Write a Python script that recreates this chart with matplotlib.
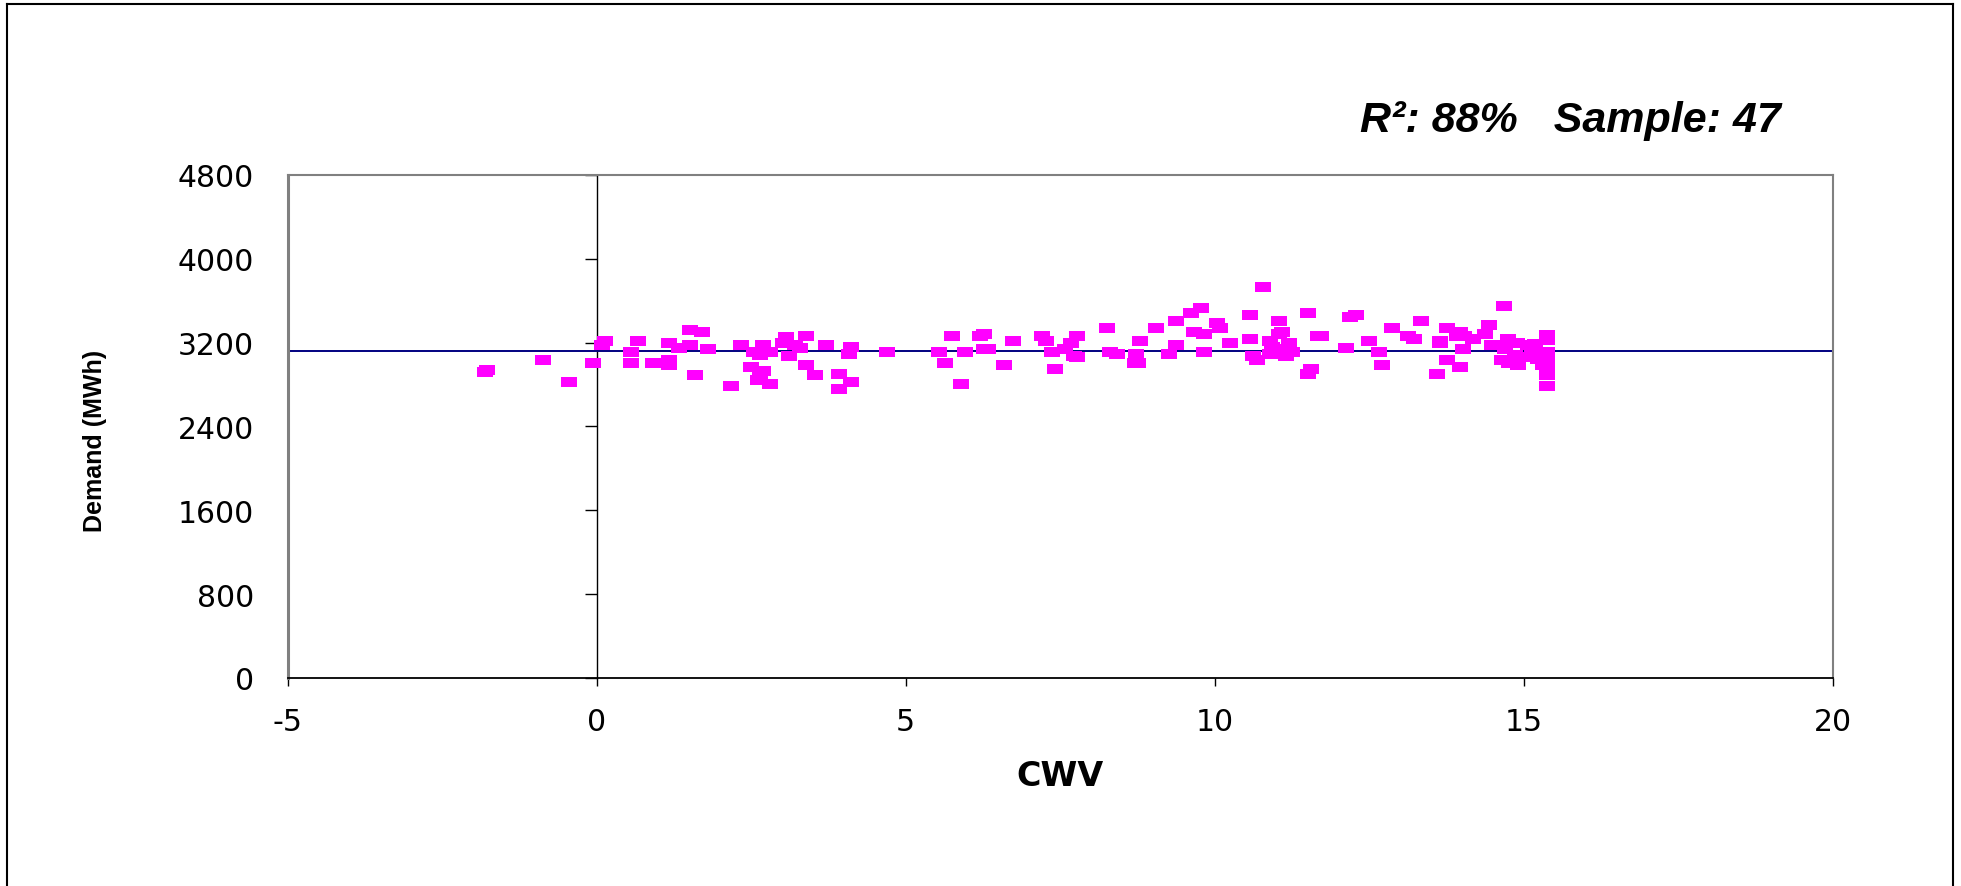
import matplotlib
matplotlib.use("Agg")
import matplotlib.pyplot as plt
from matplotlib.lines import Line2D

# ---- data ----
cwv = [-1.77, -1.80, -0.86, -0.44, -0.06, 0.09, 0.14, 0.56, 0.56, 0.665, 0.92, 1.18, 1.18, 1.18,
       1.33, 1.51, 1.51, 1.60, 1.71,
       1.81, 2.34, 2.18, 2.50, 2.55, 2.65, 2.70, 2.81, 2.70, 2.61, 2.64, 2.81, 3.07, 3.02, 3.12,
       3.22, 3.30, 3.39, 3.39, 3.54, 3.71, 3.92, 3.92, 4.12, 4.08, 4.12, 4.70, 5.54, 5.64, 5.75,
       5.90, 5.96, 6.21, 6.27, 6.27, 6.34, 6.59, 6.74, 7.21, 7.27, 7.37, 7.42, 7.58, 7.68, 7.78,
       7.72, 7.78,
       8.26, 8.31, 8.42, 8.73, 8.71, 8.76, 8.79, 9.05, 9.26, 9.37, 9.37, 9.62, 9.78, 9.67, 9.83,
       9.83, 10.04, 10.09, 10.25, 10.57, 10.57, 10.62, 10.68, 10.78, 10.89, 10.89, 10.93, 11.04,
       11.04, 11.09, 11.09, 11.20, 11.15, 11.25, 11.51, 11.56, 11.51, 11.67, 11.72, 12.13, 12.19,
       12.29, 12.50, 12.66, 12.71, 12.87, 13.13, 13.23, 13.34, 13.60, 13.65, 13.65, 13.76, 13.76,
       13.92, 13.97, 14.02, 13.97, 14.03, 14.19, 14.38, 14.44, 14.49,
       14.69, 14.75, 14.65, 14.70, 14.76, 14.90, 14.86, 14.91, 15.08, 15.08, 15.19, 15.21, 15.24,
       15.38, 15.38, 15.38, 15.38, 15.38, 15.38, 15.38, 15.32, 15.13]
demand = [2942, 2920, 3031, 2824, 3009, 3174, 3216, 3110, 3009, 3216, 3009, 3196, 3031, 2990,
          3149, 3174, 3324, 2888, 3302,
          3136, 3174, 2783, 2967, 3110, 3079, 3174, 3110, 2926, 2846, 2894, 2802, 3254, 3196, 3072,
          3174, 3149, 3260, 2990, 2888, 3174, 2904, 2760, 3158, 3088, 2824, 3110, 3110, 3009, 3260,
          2802, 3110, 3260, 3279, 3136, 3136, 2990, 3216, 3260, 3216, 3110, 2945, 3136, 3196, 3260,
          3072, 3063,
          3343, 3110, 3088, 3088, 3009, 3009, 3216, 3343, 3088, 3403, 3174, 3486, 3531, 3302, 3279,
          3110, 3384, 3343, 3196, 3467, 3238, 3072, 3031, 3735, 3216, 3088, 3158, 3403,
          3286, 3302, 3136, 3196, 3072, 3110, 3486, 2951, 2904, 3260, 3260, 3152, 3445,
          3464, 3216, 3110, 2990, 3343, 3260, 3238, 3403, 2904, 3216, 3196, 3343, 3031,
          3260, 3302, 3136, 2967, 3260, 3238, 3279, 3365, 3174,
          3547, 3238, 3037, 3142, 3009, 3196, 3079, 2990, 3174, 3063, 3190, 3110, 3047,
          3276, 3222, 3110, 3047, 2967, 2888, 2783, 2990, 3110]
fit_level = 3120
x_ticks = [-5, 0, 5, 10, 15, 20]
y_ticks = [0, 800, 1600, 2400, 3200, 4000, 4800]
title_text = "R\u00b2: 88%   Sample: 47"

W, H = 1961, 887
fig = plt.figure(figsize=(W / 100, H / 100), dpi=100)
fig.patch.set_facecolor("white")

# outer border
for xs, ys in [([7 / W, 7 / W], [0, 1 - 5 / H]),
               ([7 / W, 1953 / W], [1 - 5 / H, 1 - 5 / H]),
               ([1953 / W, 1953 / W], [0, 1 - 5 / H])]:
    fig.add_artist(Line2D(xs, ys, transform=fig.transFigure, color="black", lw=1.5))

ax = fig.add_axes([287.5 / W, 1 - 679 / H, 1545 / W, 503 / H])
ax.set_xlim(-5, 20)
ax.set_ylim(0, 4800)

rect = [(-1, -0.65), (1, -0.65), (1, 0.65), (-1, 0.65), (-1, -0.65)]
ax.axhline(fit_level, color="#000080", lw=1.4, zorder=2)
ax.plot(cwv, demand, linestyle="none", marker=rect, markersize=11,
        color="#FF00FF", markeredgewidth=0, zorder=3)

for s in ["left", "top", "right"]:
    ax.spines[s].set_color("#808080")
ax.spines["left"].set_linewidth(2.2)
ax.spines["top"].set_linewidth(1.5)
ax.spines["right"].set_linewidth(1.5)
ax.spines["bottom"].set_color("black")
ax.spines["bottom"].set_linewidth(1.3)

tick_font = dict(family="DejaVu Sans", size=21.5)
ax.set_xticks(x_ticks)
ax.set_xticklabels([str(v) for v in x_ticks], **tick_font)
ax.set_yticks(y_ticks)
ax.set_yticklabels([str(v) for v in y_ticks], **tick_font)
ax.tick_params(axis="x", direction="out", length=6, width=1, color="black", pad=15)
ax.tick_params(axis="y", length=0, pad=24)

sec = ax.secondary_yaxis(0.2)
sec.set_yticks(y_ticks)
sec.set_yticklabels([""] * len(y_ticks))
sec.tick_params(axis="y", direction="out", length=9, width=1, color="black")
sec.spines["left"].set_color("black")
sec.spines["left"].set_linewidth(1.0)

ax.set_xlabel("CWV", family="DejaVu Sans", weight="bold", size=24)
ax.xaxis.set_label_coords(0.5, -0.161)
ax.set_ylabel("Demand (MWh)", family="Liberation Sans", weight="bold", size=18)
ax.yaxis.set_label_coords(-0.117, 0.473)

fig.text(1570 / W, 1 - 121 / H, title_text, ha="center", va="center",
         family="Liberation Sans", weight="bold", style="italic", size=31)

fig.savefig("out.png", dpi=100, facecolor="white")
